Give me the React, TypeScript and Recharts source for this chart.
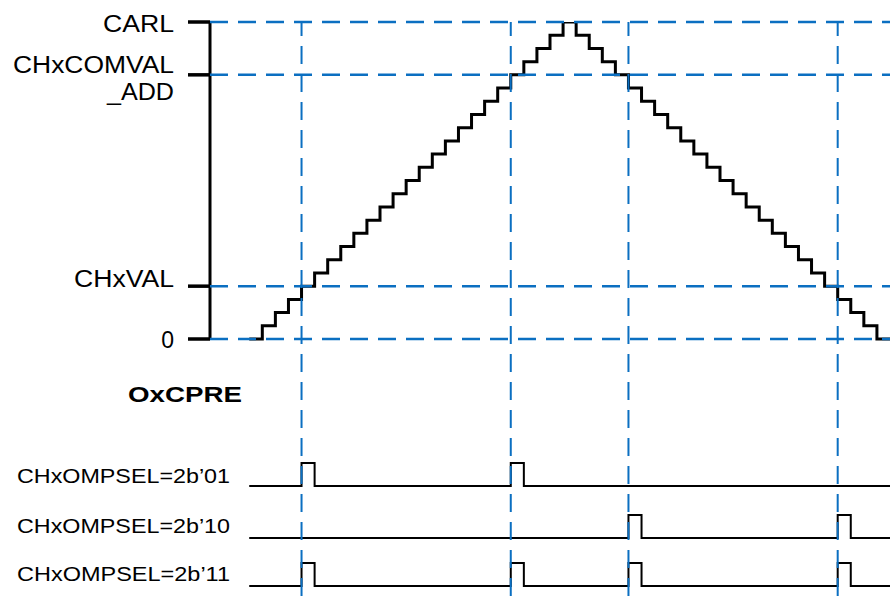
import { ComposedChart, Line, XAxis, YAxis, ReferenceLine, Customized } from "recharts";

// counter clock steps (one point per prescaler tick)
const steps = [
  0, 1, 2, 3, 4, 5, 6, 7, 8, 9, 10, 11, 12, 13, 14, 15, 16, 17, 18, 19, 20, 21, 22, 23, 24,
  25, 26, 27, 28, 29, 30, 31, 32, 33, 34, 35, 36, 37, 38, 39, 40, 41, 42, 43, 44, 45, 46, 47, 48, 49,
];
// up/down counter value
const counter = [
  0, 1, 2, 3, 4, 5, 6, 7, 8, 9, 10, 11, 12, 13, 14, 15, 16, 17, 18, 19, 20, 21, 22, 23, 24,
  23, 22, 21, 20, 19, 18, 17, 16, 15, 14, 13, 12, 11, 10, 9, 8, 7, 6, 5, 4, 3, 2, 1, 0, 0,
];

// compare levels on the counter axis and their names
const levels = [0, 4, 20, 24];
const levelNames = ["0", "CHxVAL", "CHxCOMVAL\n_ADD", "CARL"];

// steps where the compare output fires
const upMatches = [4, 20];
const downMatches = [29, 45];
const pulses01 = upMatches;
const pulses10 = downMatches;
const pulses11 = [4, 20, 29, 45];

const rowNames = ["CHxOMPSEL=2b\u201901", "CHxOMPSEL=2b\u201910", "CHxOMPSEL=2b\u201911"];

const data = steps.map((t, i) => ({
  t,
  count: counter[i],
  p01: pulses01.includes(t) ? 1 : 0,
  p10: pulses10.includes(t) ? 1 : 0,
  p11: pulses11.includes(t) ? 1 : 0,
}));

const W = 890;
const H = 596;
const TOP = 22;
const BLUE = "#0b6fc1";
const FONT = "'Liberation Sans', Arial, sans-serif";

// domain so that value lo sits at pixel loPx and hi at hiPx inside the plot
function domainFor(lo: number, loPx: number, hi: number, hiPx: number): [number, number] {
  const k = (hi - lo) / (loPx - hiPx);
  return [lo - (H - loPx) * k, hi + (hiPx - TOP) * k];
}

const cntDomain = domainFor(0, 339, 24, 22);
const p01Domain = domainFor(0, 486, 1, 463);
const p10Domain = domainFor(0, 538, 1, 515);
const p11Domain = domainFor(0, 586, 1, 563);

const labelFit: Record<string, { dy: number; len?: number }> = {
  "0": { dy: 9 },
  CHxVAL: { dy: 1, len: 100 },
  CHxCOMVAL: { dy: -2, len: 161 },
  _ADD: { dy: 25, len: 67 },
  CARL: { dy: 10, len: 71 },
};

function LevelTick(props: any) {
  const { x, y, payload } = props;
  const name = levelNames[levels.indexOf(payload.value)] ?? "";
  return (
    <g>
      {name.split("\n").map((s) => {
        const f = labelFit[s] ?? { dy: 8 };
        return (
          <text
            key={s}
            x={x}
            y={y + f.dy}
            textAnchor="end"
            fontSize={23}
            fontFamily={FONT}
            fill="#000"
            textLength={f.len}
            lengthAdjust={f.len ? "spacingAndGlyphs" : undefined}
          >
            {s}
          </text>
        );
      })}
    </g>
  );
}

function Labels() {
  const baselines = [483, 533, 581];
  return (
    <g fontFamily={FONT} fill="#000">
      <text x={128} y={402} fontSize={21.5} fontWeight="bold" textLength={114} lengthAdjust="spacingAndGlyphs">
        OxCPRE
      </text>
      {rowNames.map((n, i) => (
        <text key={n} x={17} y={baselines[i]} fontSize={21} textLength={213} lengthAdjust="spacingAndGlyphs">
          {n}
        </text>
      ))}
    </g>
  );
}

export default function App() {
  return (
    <div style={{ position: "absolute", left: 0, top: 0, width: W, height: H, background: "#fff" }}>
      <ComposedChart width={W} height={H} data={data} margin={{ top: TOP, right: 0, bottom: 0, left: 0 }}>
        <XAxis dataKey="t" type="number" domain={[-3, 49]} hide allowDataOverflow />
        <YAxis
          yAxisId="cnt"
          width={210}
          type="number"
          domain={cntDomain}
          allowDataOverflow
          ticks={levels}
          interval={0}
          tickSize={22}
          tickMargin={14}
          tickLine={{ stroke: "#000", strokeWidth: 3.5 }}
          axisLine={false}
          tick={<LevelTick />}
        />
        <YAxis yAxisId="p01" hide type="number" domain={p01Domain} allowDataOverflow />
        <YAxis yAxisId="p10" hide type="number" domain={p10Domain} allowDataOverflow />
        <YAxis yAxisId="p11" hide type="number" domain={p11Domain} allowDataOverflow />

        <ReferenceLine
          yAxisId="cnt"
          segment={[{ x: -3, y: 0 }, { x: -3, y: 24 }]}
          stroke="#000"
          strokeWidth={3}
        />

        <Line yAxisId="cnt" dataKey="count" type="stepAfter" stroke="#000" strokeWidth={3} dot={false} isAnimationActive={false} />
        <Line yAxisId="p01" dataKey="p01" type="stepAfter" stroke="#000" strokeWidth={2} dot={false} isAnimationActive={false} />
        <Line yAxisId="p10" dataKey="p10" type="stepAfter" stroke="#000" strokeWidth={2} dot={false} isAnimationActive={false} />
        <Line yAxisId="p11" dataKey="p11" type="stepAfter" stroke="#000" strokeWidth={2} dot={false} isAnimationActive={false} />

        {levels.map((v) => (
          <ReferenceLine key={`h${v}`} yAxisId="cnt" y={v} stroke={BLUE} strokeWidth={2.5} strokeDasharray="18 10" />
        ))}
        {pulses11.map((t) => (
          <ReferenceLine key={`v${t}`} yAxisId="cnt" x={t} stroke={BLUE} strokeWidth={2} strokeDasharray="18 10" />
        ))}

        <Customized component={Labels} />
      </ComposedChart>
    </div>
  );
}
